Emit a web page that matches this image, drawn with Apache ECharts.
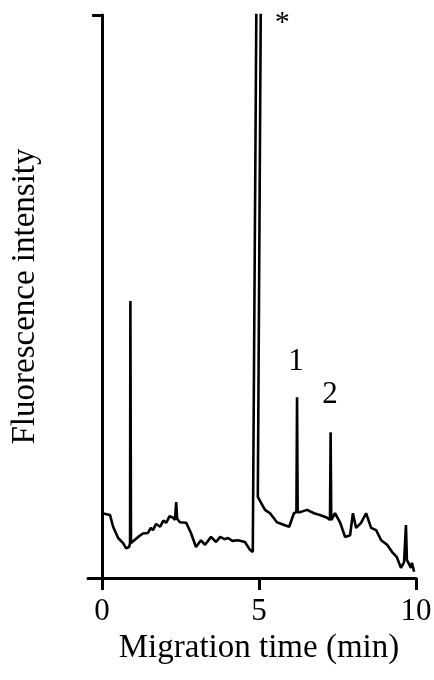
<!DOCTYPE html>
<html>
<head>
<meta charset="utf-8">
<script src="https://cdn.jsdelivr.net/npm/echarts@6/dist/echarts.min.js"></script>
<style>
html,body{margin:0;padding:0;background:#fff;}
#chart{width:434px;height:680px;}
</style>
</head>
<body>
<div id="chart"></div>
<script>
// Migration time (min)
var timeMin = [
  0.00, 0.25, 0.35, 0.51, 0.67, 0.76, 0.86, 0.89, 0.90, 0.91, 0.92, 0.93,
  1.15, 1.30, 1.46, 1.55, 1.62, 1.72, 1.85, 1.95, 2.04, 2.15, 2.26, 2.32,
  2.36, 2.39, 2.48, 2.68, 2.83, 2.99, 3.15, 3.28, 3.47, 3.63, 3.76, 3.90,
  4.01, 4.15, 4.33, 4.55, 4.71, 4.80, 4.93, 5.07, 4.96, 5.00, 5.10, 5.19,
  5.35, 5.57, 5.80, 5.96, 6.11, 6.19, 6.21, 6.23, 6.31, 6.53, 6.75, 6.94,
  7.17, 7.26, 7.28, 7.30, 7.42, 7.58, 7.74, 7.90, 7.99, 8.09, 8.25, 8.41,
  8.57, 8.73, 8.89, 9.08, 9.24, 9.39, 9.52, 9.62, 9.68, 9.71, 9.84, 9.87, 9.94
];
// Fluorescence intensity (arbitrary units, full scale = 100)
var intensity = [
  11.5, 11.2, 9.1, 7.1, 6.2, 5.3, 5.5, 6.2, 49.2, 49.2, 6.2, 6.2,
  7.3, 7.9, 8.0, 8.9, 8.5, 9.6, 9.1, 10.2, 9.8, 11.0, 10.7, 10.3,
  13.5, 10.5, 9.9, 9.8, 8.0, 5.5, 6.7, 5.9, 7.3, 6.4, 7.3, 6.9,
  7.1, 6.6, 6.7, 6.4, 5.0, 4.6, 115, 115, 14.4, 14.0, 13.0, 12.1,
  11.5, 9.9, 9.4, 9.1, 11.5, 11.7, 32.1, 11.7, 11.7, 12.1, 11.5, 11.2,
  10.7, 10.3, 25.9, 10.3, 11.5, 9.9, 7.3, 7.6, 11.5, 8.9, 9.8, 11.5,
  8.9, 8.5, 6.7, 5.9, 4.6, 3.7, 1.8, 2.8, 9.4, 3.2, 1.8, 2.7, 1.1
];
var xTickValues = [0, 5, 10];
var peakLabels = ['*', '1', '2'];
var peakLabelX = [5.74, 6.18, 7.26];
var peakLabelY = [98.6, 38.4, 32.5];
var peakLabelSize = [30, 31, 31];

var lineData = timeMin.map(function (t, i) { return [t, intensity[i]]; });
var labelData = peakLabels.map(function (s, i) {
  return { value: [peakLabelX[i], peakLabelY[i]], name: s,
    label: { fontSize: peakLabelSize[i] } };
});

var serif = 'Liberation Serif, Times New Roman, serif';
var chart = echarts.init(document.getElementById('chart'), null, { renderer: 'canvas' });
chart.setOption({
  animation: false,
  backgroundColor: '#fff',
  grid: { left: 88, right: 18, top: 15, bottom: 102, containLabel: false, outerBoundsMode: 'none' },
  xAxis: {
    type: 'value',
    min: -0.45,
    max: 10,
    name: 'Migration time (min)',
    nameLocation: 'middle',
    nameGap: 45,
    nameTextStyle: { fontFamily: serif, fontSize: 33, color: '#000', padding: [0, 0, 0, 14] },
    axisLine: { show: true, onZero: false, lineStyle: { color: '#000', width: 3 } },
    axisTick: { show: true, customValues: xTickValues, length: 12, lineStyle: { color: '#000', width: 3 } },
    axisLabel: { show: true, customValues: xTickValues, margin: 18, fontFamily: serif, fontSize: 31, color: '#000' },
    splitLine: { show: false }
  },
  yAxis: {
    type: 'value',
    min: 0,
    max: 100,
    name: 'Fluorescence intensity',
    nameLocation: 'middle',
    nameGap: 46,
    nameTextStyle: { fontFamily: serif, fontSize: 33, color: '#000' },
    axisLine: { show: true, onZero: true, lineStyle: { color: '#000', width: 3 } },
    axisTick: { show: true, customValues: [100], length: 10, lineStyle: { color: '#000', width: 3 } },
    axisLabel: { show: false },
    splitLine: { show: false }
  },
  series: [
    {
      type: 'line',
      data: lineData,
      showSymbol: false,
      symbol: 'none',
      clip: true,
      lineStyle: { color: '#000', width: 2.6 },
      z: 3
    },
    {
      type: 'scatter',
      data: labelData,
      symbolSize: 0,
      silent: true,
      itemStyle: { color: '#000' },
      label: {
        show: true,
        position: 'inside',
        formatter: '{b}',
        fontFamily: serif,
        color: '#000',
        textBorderWidth: 0,
        opacity: 1
      }
    }
  ]
});
</script>
</body>
</html>
